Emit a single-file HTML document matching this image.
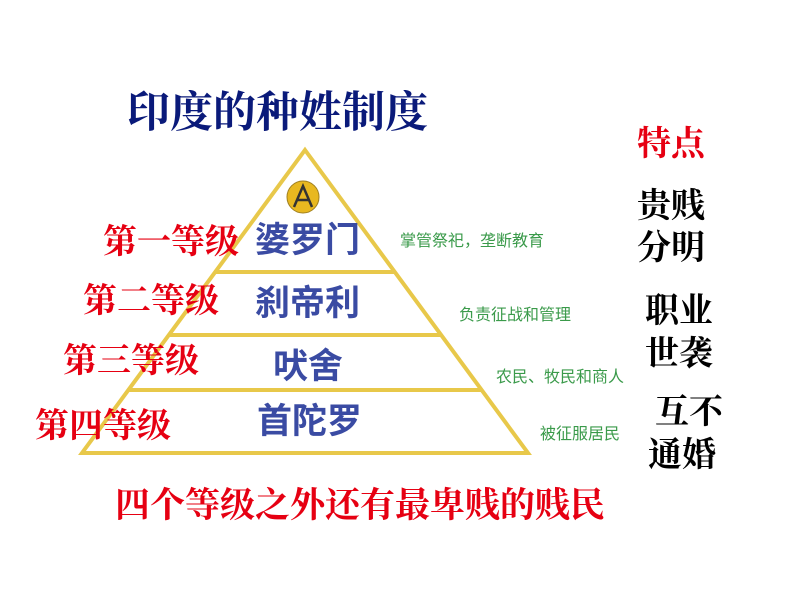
<!DOCTYPE html>
<html><head><meta charset="utf-8"><style>
body{margin:0;width:794px;height:596px;background:#fff;position:relative;overflow:hidden;font-family:"Liberation Serif","Noto Serif CJK SC",serif}
.t{position:absolute;white-space:nowrap;line-height:1}
.r{color:#e60012;font-size:34px;font-weight:bold}
.k{color:#000;font-size:34px;font-weight:bold}
.b{color:#3a4ba3;font-family:"Liberation Sans","Noto Sans CJK SC",sans-serif;font-weight:bold;font-size:35px}
.g{color:#3a9a4a;font-family:"Liberation Sans","Noto Sans CJK SC",sans-serif;font-size:16px}
</style></head><body>
<svg width="794" height="596" style="position:absolute;left:0;top:0">
<polygon points="305,150 528,453 82,453" fill="#fff" stroke="#e8c84a" stroke-width="4"/>
<line x1="214" y1="272" x2="394" y2="272" stroke="#e8c84a" stroke-width="4"/>
<line x1="168" y1="335" x2="441" y2="335" stroke="#e8c84a" stroke-width="4"/>
<line x1="128" y1="390" x2="481" y2="390" stroke="#e8c84a" stroke-width="4"/>
<circle cx="303" cy="197" r="16" fill="#e8b820" stroke="#a08020" stroke-width="1"/>
<path d="M294 207 L303 186 L312 207 M297 200 H309" stroke="#333" stroke-width="2.5" fill="none"/>
</svg>
<div class="t" style="left:127px;top:92px;font-size:43px;font-weight:bold;color:#0a1a7a">印度的种姓制度</div>
<div class="t r" style="left:103px;top:226px">第一等级</div>
<div class="t r" style="left:83px;top:285px">第二等级</div>
<div class="t r" style="left:63px;top:345px">第三等级</div>
<div class="t r" style="left:35px;top:410px">第四等级</div>
<div class="t b" style="left:255px;top:223px">婆罗门</div>
<div class="t b" style="left:255px;top:286px">刹帝利</div>
<div class="t b" style="left:273px;top:349px">吠舍</div>
<div class="t b" style="left:257px;top:404px">首陀罗</div>
<div class="t g" style="left:400px;top:234px">掌管祭祀，垄断教育</div>
<div class="t g" style="left:459px;top:308px">负责征战和管理</div>
<div class="t g" style="left:496px;top:370px">农民、牧民和商人</div>
<div class="t g" style="left:540px;top:427px">被征服居民</div>
<div class="t" style="left:637px;top:128px;font-size:34px;font-weight:bold;color:#e60012">特点</div>
<div class="t k" style="left:637px;top:190px">贵贱</div>
<div class="t k" style="left:637px;top:232px">分明</div>
<div class="t k" style="left:645px;top:295px">职业</div>
<div class="t k" style="left:645px;top:338px">世袭</div>
<div class="t k" style="left:655px;top:396px">互不</div>
<div class="t k" style="left:648px;top:439px">通婚</div>
<div class="t" style="left:115px;top:488px;font-size:35px;font-weight:bold;color:#e60012">四个等级之外还有最卑贱的贱民</div>
</body></html>
